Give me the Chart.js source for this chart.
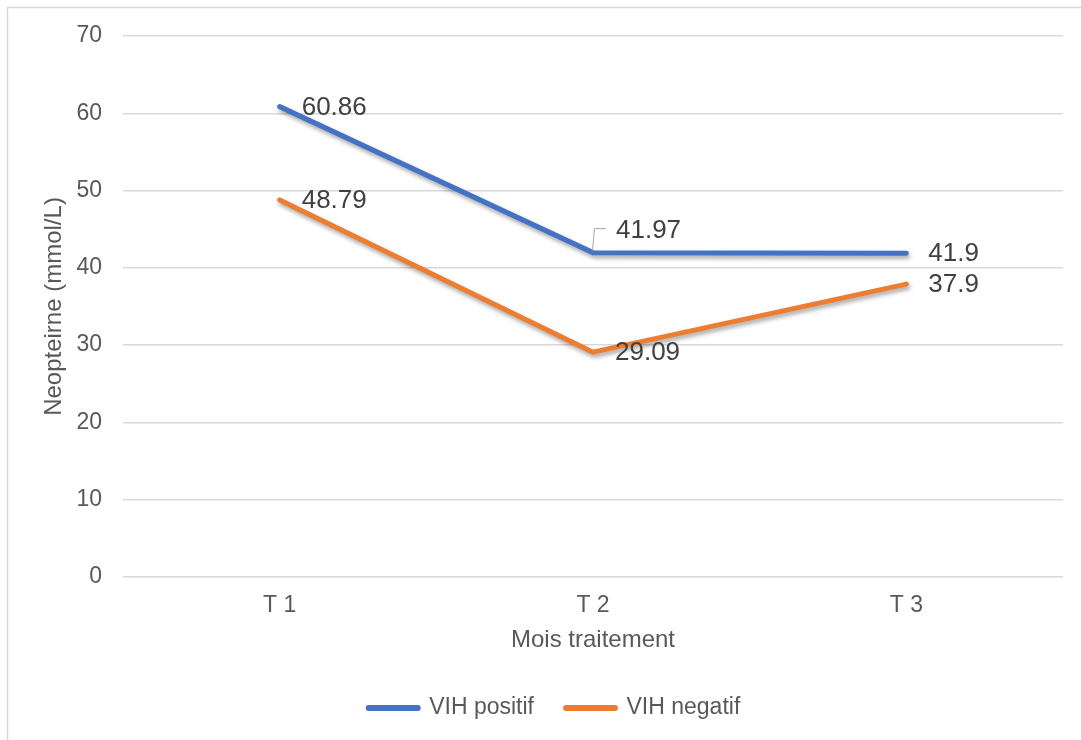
<!DOCTYPE html>
<html>
<head>
<meta charset="utf-8">
<script src="https://cdn.jsdelivr.net/npm/chart.js@4.4.0/dist/chart.umd.min.js"></script>
<style>
  html, body { margin: 0; padding: 0; background: #ffffff; }
  #wrap { width: 1081px; height: 740px; position: relative; }
</style>
</head>
<body>
<div id="wrap"><canvas id="c" width="1081" height="740"></canvas></div>
<script>
const categories = ["T 1", "T 2", "T 3"];
const vihPositif = [60.86, 41.97, 41.9];
const vihNegatif = [48.79, 29.09, 37.9];
const seriesNames = ["VIH positif", "VIH negatif"];
const yTitle = "Neopteirne (mmol/L)";
const xTitle = "Mois traitement";

const FONT = "'Liberation Sans', Arial, sans-serif";

const framePlugin = {
  id: 'frame',
  beforeDraw(chart) {
    const ctx = chart.ctx;
    ctx.save();
    ctx.fillStyle = '#ffffff';
    ctx.fillRect(0, 0, chart.width, chart.height);
    ctx.strokeStyle = '#d9d9d9';
    ctx.lineWidth = 1.5;
    ctx.beginPath();
    ctx.moveTo(7.5, chart.height);
    ctx.lineTo(7.5, 7.5);
    ctx.lineTo(chart.width, 7.5);
    ctx.stroke();
    ctx.restore();
  }
};

// nudge the legend block to sit where the reference has it
const legendShiftPlugin = {
  id: 'legendShift',
  afterLayout(chart) {
    if (chart.legend) {
      chart.legend.left += 19;
      chart.legend.right += 19;
    }
  }
};

const shadowPlugin = {
  id: 'lineShadow',
  beforeDatasetDraw(chart) {
    const ctx = chart.ctx;
    ctx.save();
    ctx.shadowColor = 'rgba(0,0,0,0.35)';
    ctx.shadowBlur = 4;
    ctx.shadowOffsetX = 1.5;
    ctx.shadowOffsetY = 3;
  },
  afterDatasetDraw(chart) {
    chart.ctx.restore();
  }
};

const valueLabelPlugin = {
  id: 'valueLabels',
  afterDatasetsDraw(chart) {
    const ctx = chart.ctx;
    ctx.save();
    ctx.font = "26px " + FONT;
    ctx.fillStyle = '#404040';
    ctx.textAlign = 'left';
    ctx.textBaseline = 'middle';
    chart.data.datasets.forEach((ds, di) => {
      const meta = chart.getDatasetMeta(di);
      meta.data.forEach((pt, i) => {
        const v = ds.data[i];
        let dx = 22, dy = 1;
        if (di === 0 && i === 1) {
          dx = 23; dy = -22;
          ctx.save();
          ctx.strokeStyle = '#a6a6a6';
          ctx.lineWidth = 1;
          ctx.beginPath();
          ctx.moveTo(pt.x - 0.5, pt.y - 2);
          ctx.lineTo(pt.x + 1.5, pt.y - 24);
          ctx.lineTo(pt.x + 13, pt.y - 24);
          ctx.stroke();
          ctx.restore();
        }
        ctx.fillText(String(v), pt.x + dx, pt.y + dy);
      });
    });
    ctx.restore();
  }
};

new Chart(document.getElementById('c'), {
  type: 'line',
  data: {
    labels: categories,
    datasets: [
      {
        label: seriesNames[0],
        data: vihPositif,
        borderColor: '#4472C4',
        backgroundColor: '#4472C4',
        borderWidth: 5,
        borderCapStyle: 'round',
        borderJoinStyle: 'round',
        pointRadius: 0,
        tension: 0,
        fill: false
      },
      {
        label: seriesNames[1],
        data: vihNegatif,
        borderColor: '#ED7D31',
        backgroundColor: '#ED7D31',
        borderWidth: 5,
        borderCapStyle: 'round',
        borderJoinStyle: 'round',
        pointRadius: 0,
        tension: 0,
        fill: false
      }
    ]
  },
  options: {
    responsive: false,
    animation: false,
    devicePixelRatio: 1,
    layout: { padding: { left: 8, top: 36, right: 18, bottom: 10.5 } },
    plugins: {
      tooltip: { enabled: false },
      legend: {
        position: 'bottom',
        labels: {
          font: { family: FONT, size: 23 },
          color: '#595959',
          padding: 32,
          usePointStyle: true,
          pointStyleWidth: 49,
          generateLabels(chart) {
            return chart.data.datasets.map((ds, i) => ({
              text: ds.label,
              fillStyle: ds.borderColor,
              strokeStyle: ds.borderColor,
              lineWidth: 6,
              lineCap: 'round',
              pointStyle: 'line',
              hidden: false,
              datasetIndex: i,
              fontColor: '#595959'
            }));
          }
        }
      }
    },
    scales: {
      x: {
        offset: true,
        grid: { display: false, drawTicks: false },
        border: { display: false },
        ticks: {
          font: { family: FONT, size: 23 },
          color: '#595959',
          padding: 15
        },
        title: {
          display: true,
          text: xTitle,
          font: { family: FONT, size: 24 },
          color: '#595959',
          padding: { top: 0, bottom: 10 }
        },
        afterFit(scale) { scale.height = 87.5; }
      },
      y: {
        min: 0,
        max: 70,
        ticks: {
          stepSize: 10,
          font: { family: FONT, size: 23 },
          color: '#595959',
          padding: 21
        },
        grid: { color: '#d9d9d9', lineWidth: 1.5, drawTicks: false },
        border: { display: false },
        title: {
          display: true,
          text: yTitle,
          font: { family: FONT, size: 24 },
          color: '#595959',
          padding: { top: 32, bottom: 0 }
        },
        afterFit(scale) { scale.width = 115; }
      }
    }
  },
  plugins: [framePlugin, legendShiftPlugin, shadowPlugin, valueLabelPlugin]
});
</script>
</body>
</html>
